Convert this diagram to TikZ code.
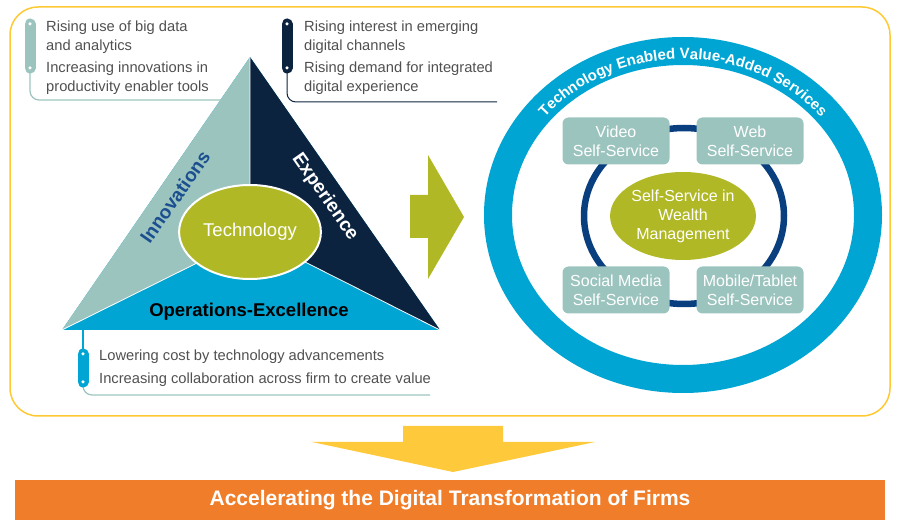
\documentclass[tikz,border=0pt]{standalone}
\usepackage{fontspec}
\setmainfont{Liberation Sans}
\usetikzlibrary{shapes.geometric,decorations.text}

\definecolor{teallight}{HTML}{9CC4BF}
\definecolor{navydark}{HTML}{0C2340}
\definecolor{cyanband}{HTML}{00A5D3}
\definecolor{olivegreen}{HTML}{B0B925}
\definecolor{ringblue}{HTML}{0A3F7F}
\definecolor{frameyellow}{HTML}{FFC933}
\definecolor{arrowyellow}{HTML}{FEC93A}
\definecolor{barorange}{HTML}{EF7D2A}
\definecolor{bodygrey}{HTML}{505050}
\definecolor{innoblue}{HTML}{1B4F8F}

\begin{document}
\begin{tikzpicture}[x=1pt,y=1pt,
    note/.style={anchor=north west,align=left,inner sep=0pt,text=bodygrey,font=\fontsize{14.7}{19}\selectfont},
    service/.style={rectangle,rounded corners=6pt,fill=teallight,text=white,align=center,minimum width=107,minimum height=47,inner sep=0pt,font=\fontsize{16}{19}\selectfont},
    pill/.style={line width=11pt,line cap=round},
    pilldot/.style={circle,fill=white,inner sep=0pt,minimum size=3.5pt},
    bigbold/.style={font=\fontsize{19}{21}\selectfont\bfseries}]
  \useasboundingbox (0,0) rectangle (898,-521);

  % frame
  \draw[frameyellow,line width=1.5pt,rounded corners=28pt] (10,-7) rectangle (890,-416);

  % triangle
  \coordinate (A)  at (250,-57);
  \coordinate (L)  at ( 62,-330);
  \coordinate (R)  at (440,-330);
  \coordinate (C)  at (250,-232);
  \coordinate (PL) at (197,-263);
  \coordinate (PR) at (305,-262);
  \fill[cyanband]  (A) -- (L) -- (R) -- cycle;
  \fill[teallight] (A) -- (C) -- (PL) -- (L) -- cycle;
  \fill[navydark]  (A) -- (C) -- (PR) -- (R) -- cycle;
  \draw[white,line width=0.8pt] (A) -- (C) (L) -- (PL) (R) -- (PR);
  \node[ellipse,fill=olivegreen,draw=white,line width=2pt,minimum width=134,minimum height=94,text=white,font=\fontsize{18.5}{20}\selectfont] (tech) at (C) {Technology};
  \node[bigbold,rotate=55,text=innoblue] (inno) at (175,-197) {Innovations};
  \node[bigbold,rotate=-55,text=white]   (expe) at (325,-197) {Experience};
  \node[bigbold,text=black,font=\fontsize{18.5}{20}\selectfont\bfseries] (opex) at (249,-312) {Operations-Excellence};

  % tags
  \coordinate (tlA) at ( 30,-24);
  \coordinate (tlB) at ( 30,-68);
  \coordinate (tlE) at (221,-100);
  \coordinate (trA) at (287,-24);
  \coordinate (trB) at (287,-68);
  \coordinate (trE) at (497,-102);
  \coordinate (bmT) at ( 83,-330);
  \coordinate (bmA) at ( 83,-354);
  \coordinate (bmB) at ( 83,-382);
  \coordinate (bmE) at (430,-395);

  \draw[teallight,line width=1.2pt,rounded corners=9pt] (tlB) |- (tlE);
  \draw[navydark,line width=1pt,rounded corners=9pt]    (trB) |- (trE);
  \draw[cyanband,line width=1.5pt]                      (bmT) -- (bmA);
  \draw[teallight,line width=1.2pt,rounded corners=9pt] (bmB) |- (bmE);

  \draw[pill,teallight] (tlA) -- (tlB);
  \draw[pill,navydark]  (trA) -- (trB);
  \draw[pill,cyanband]  (bmA) -- (bmB);
  \foreach \p in {tlA,tlB,trA,trB,bmA,bmB}
    \node[pilldot] at (\p) {};

  \node[note] (tlText) at ( 46,-20.5) {Rising use of big data\\and analytics\\[3pt]Increasing innovations in\\productivity enabler tools};
  \node[note] (trText) at (304,-20.5) {Rising interest in emerging\\digital channels\\[3pt]Rising demand for integrated\\digital experience};
  \node[note] (bmText) at ( 99,-350)  {Lowering cost by technology advancements\\[4pt]Increasing collaboration across firm to create value};

  % arrow to services
  \fill[olivegreen] (410,-195) -- (428,-195) -- (428,-155) -- (464,-217) -- (428,-279) -- (428,-238) -- (410,-238) -- cycle;

  % services ring
  \draw[cyanband,line width=28pt] (683,-215) ellipse[x radius=185,y radius=164];
  \path[decorate,decoration={text along path,text align=center,text color=white,
      text={|\fontsize{15}{15}\selectfont\bfseries|Technology Enabled Value-Added Services}}]
    (683,-215) ++(165:177 and 156) arc[start angle=165,end angle=15,x radius=177,y radius=156];
  \draw[ringblue,line width=6.5pt] (684,-216) ellipse[x radius=100,y radius=88];

  \node[ellipse,fill=olivegreen,minimum width=142,minimum height=88,inner sep=0pt,text=white,align=center,font=\fontsize{16}{19}\selectfont] (wealth) at (683,-216) {Self-Service in\\Wealth\\Management};
  \node[service] (video)  at (616,-141) {Video\\Self-Service};
  \node[service] (web)    at (750,-141) {Web\\Self-Service};
  \node[service] (social) at (616,-290) {Social Media\\Self-Service};
  \node[service] (mobile) at (750,-290) {Mobile/Tablet\\Self-Service};

  % down arrow and result
  \fill[arrowyellow] (403,-426) -- (503,-426) -- (503,-442) -- (595,-442) -- (453,-472) -- (312,-442) -- (403,-442) -- cycle;
  \node[fill=barorange,minimum width=870,minimum height=40,inner sep=0pt,text=white,font=\fontsize{21}{23}\selectfont\bfseries] (goal) at (450,-500) {Accelerating the Digital Transformation of Firms};
\end{tikzpicture}
\end{document}
